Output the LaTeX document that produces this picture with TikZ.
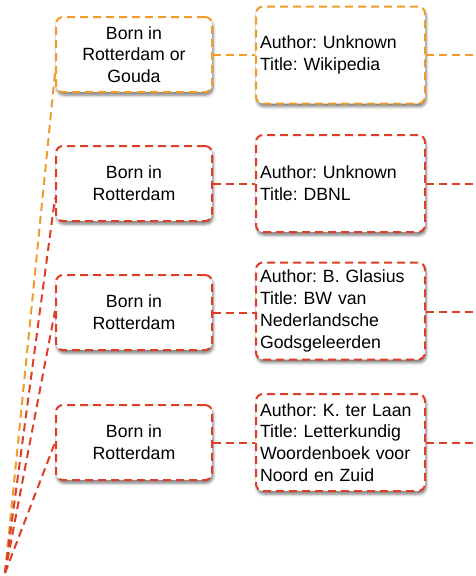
\documentclass[tikz,border=0pt]{standalone}
\usepackage{fontspec}
\setmainfont{Liberation Sans}
\usetikzlibrary{shadows.blur,calc}
\definecolor{orng}{RGB}{240,156,42}
\definecolor{rd}{RGB}{222,62,38}
\tikzset{
  dsh/.style={line width=2pt, dash pattern=on 8pt off 5pt},
  boxbase/.style={dsh, rounded corners=7pt, fill=white, inner sep=0pt,
    blur shadow={shadow xshift=1pt, shadow yshift=-3pt, shadow blur radius=3pt, shadow opacity=55},
    font=\fontsize{17.7}{21.8}\selectfont},
  leftbox/.style={boxbase, minimum width=156pt, minimum height=75pt, align=center},
  rightbox/.style={boxbase, minimum width=169pt, minimum height=97pt, text width=161pt, align=left},
  link/.style={dsh}
}
\begin{document}
\frenchspacing
\begin{tikzpicture}[x=1pt,y=-1pt]
\useasboundingbox (0,0) rectangle (475,576);
% left boxes
\node[leftbox, draw=orng] (l1) at (134,54.5) {Born in\\Rotterdam or\\Gouda};
\node[leftbox, draw=rd] (l2) at (134,183.5) {Born in\\Rotterdam};
\node[leftbox, draw=rd] (l3) at (134,312.5) {Born in\\Rotterdam};
\node[leftbox, draw=rd] (l4) at (134,442.5) {Born in\\Rotterdam};
% right boxes
\node[rightbox, draw=orng] (r1) at (340.5,55) {Author: Unknown\\Title: Wikipedia};
\node[rightbox, draw=rd] (r2) at (340.5,183.5) {Author: Unknown\\Title: DBNL};
\node[rightbox, draw=rd] (r3) at (340.5,311) {Author: B. Glasius\\Title: BW van\\Nederlandsche\\Godsgeleerden};
\node[rightbox, draw=rd] (r4) at (340.5,442.5) {Author: K. ter Laan\\Title: Letterkundig\\Woordenboek voor\\Noord en Zuid};
% free ends
\coordinate (apex) at (5,573);
\coordinate (e1) at (475,55);
\coordinate (e2) at (475,183.5);
\coordinate (e3) at (475,312);
\coordinate (e4) at (475,442.5);
% connectors from apex
\draw[link, orng] (apex) -- ($(l1.west)+(0,18.5)$);
\draw[link, rd] (apex) -- ($(l2.west)+(0,14.5)$);
\draw[link, rd] (apex) -- ($(l3.west)+(0,-1.5)$);
\draw[link, rd] (apex) -- (l4.west);
% left to right
\draw[link, orng] (l1.east) -- (l1.east -| r1.west);
\draw[link, rd] (l2.east) -- (l2.east -| r2.west);
\draw[link, rd] (l3.east) -- (l3.east -| r3.west);
\draw[link, rd] (l4.east) -- (l4.east -| r4.west);
% outgoing
\draw[link, orng] (r1.east) -- (e1);
\draw[link, rd] (r2.east) -- (e2);
\draw[link, rd] (r3.east |- e3) -- (e3);
\draw[link, rd] (r4.east) -- (e4);
\end{tikzpicture}
\end{document}
